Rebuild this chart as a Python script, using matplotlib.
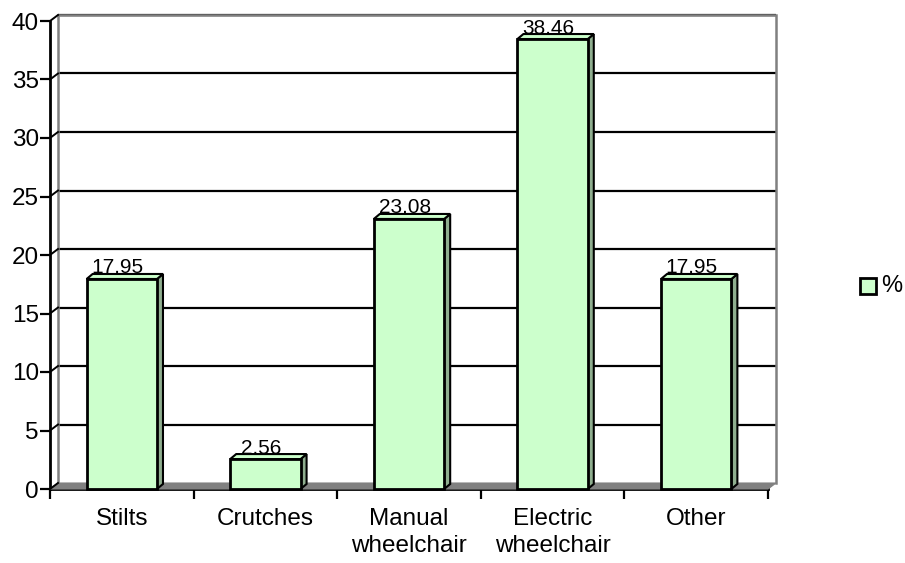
import numpy as np
import matplotlib
matplotlib.use('Agg')
import matplotlib.pyplot as plt
from matplotlib.patches import Polygon, Rectangle
from matplotlib.transforms import ScaledTranslation

plt.rcParams['font.family'] = ['Liberation Sans', 'DejaVu Sans']

# data
categories = ['Stilts', 'Crutches', 'Manual\nwheelchair', 'Electric\nwheelchair', 'Other']
values = [17.95, 2.56, 23.08, 38.46, 17.95]
labels = ['17,95', '2,56', '23,08', '38,46', '17,95']
series_name = '%'

fig = plt.figure(figsize=(9.05, 5.63), dpi=100)
ax = fig.add_axes([50/905, (563-489)/563, 718/905, 468/563])
ax.set_xlim(-0.5, 4.5)
ax.set_ylim(0, 40)
ax.patch.set_visible(False)

def off(dx, dy):
    # pixel offset in display space
    return ax.transData + ScaledTranslation(dx/100, dy/100, fig.dpi_scale_trans)

wx, wy = 8, 6      # wall depth
bx, by = 6, 5      # bar depth
gray = '#808080'
inv = fig.transFigure.inverted()

def figpoly(pts, **kw):
    fig.patches.append(Polygon([inv.transform(p) for p in pts], closed=True,
                               transform=fig.transFigure, **kw))

# floor
x0, y0 = ax.transData.transform((-0.5, 0))
x1, _ = ax.transData.transform((4.5, 0))
figpoly([(x0, y0), (x1, y0), (x1 + wx, y0 + wy), (x0 + wx, y0 + wy)],
        facecolor=gray, edgecolor=gray, lw=0.8, zorder=1)

# back wall gridlines and diagonal ticks
for v in range(5, 45, 5):
    ax.plot([-0.5, 4.5], [v, v], color='black', lw=1.6, transform=off(wx, wy),
            zorder=2, solid_capstyle='butt', clip_on=False)
for v in range(0, 45, 5):
    xa, ya = ax.transData.transform((-0.5, v))
    a = inv.transform((xa, ya))
    b = inv.transform((xa + wx, ya + wy))
    fig.lines.append(plt.Line2D([a[0], b[0]], [a[1], b[1]], color='black', lw=1.4,
                                transform=fig.transFigure, zorder=3))

# wall outline (gray)
ax.plot([-0.5, -0.5, 4.5, 4.5], [0, 40, 40, 0], color=gray, lw=1.8,
        transform=off(wx, wy), zorder=2, solid_joinstyle='miter', clip_on=False)

# bars
w = 0.49
face = '#ccffcc'
side = '#8fae8f'
for i, v in enumerate(values):
    l, r = i - w/2, i + w/2
    pl = ax.transData.transform((l, 0))
    pr = ax.transData.transform((r, 0))
    pt = ax.transData.transform((r, v))
    ptl = ax.transData.transform((l, v))
    figpoly([pr, pt, (pt[0] + bx, pt[1] + by), (pr[0] + bx, pr[1] + by)],
            facecolor=side, edgecolor='black', lw=1.5, zorder=4)
    figpoly([ptl, pt, (pt[0] + bx, pt[1] + by), (ptl[0] + bx, ptl[1] + by)],
            facecolor=face, edgecolor='black', lw=1.5, zorder=4)
    fig.patches.append(Rectangle(inv.transform(pl), *(inv.transform(pt) - inv.transform(pl)),
                                 facecolor=face, edgecolor='black', lw=2,
                                 transform=fig.transFigure, zorder=5))
    ax.text(i - 0.03, v, labels[i], ha='center', va='bottom', fontsize=15,
            transform=off(0, 2), zorder=6)

# axes styling
for s in ['top', 'right']:
    ax.spines[s].set_visible(False)
ax.spines['left'].set_linewidth(2)
ax.spines['bottom'].set_linewidth(2)
ax.spines['left'].set_zorder(6)
ax.spines['bottom'].set_zorder(6)
ax.set_yticks(range(0, 45, 5))
ax.tick_params(axis='y', length=7, width=1.6, pad=1, labelsize=17.5)
ax.set_xticks(range(5))
ax.set_xticklabels(categories, fontsize=17.5, linespacing=1.25)
ax.set_xticks(np.arange(-0.5, 5, 1), minor=True)
ax.tick_params(axis='x', which='major', length=0, pad=14)
ax.tick_params(axis='x', which='minor', length=7, width=1.6)

# legend
fig.patches.append(Rectangle((860/905, 1 - 294/563), 16/905, 16/563,
                             facecolor=face, edgecolor='black', lw=2,
                             transform=fig.transFigure))
fig.text(881/905, 1 - 286/563, series_name, fontsize=17, va='center', ha='left')

fig.savefig('out.png', dpi=100)
